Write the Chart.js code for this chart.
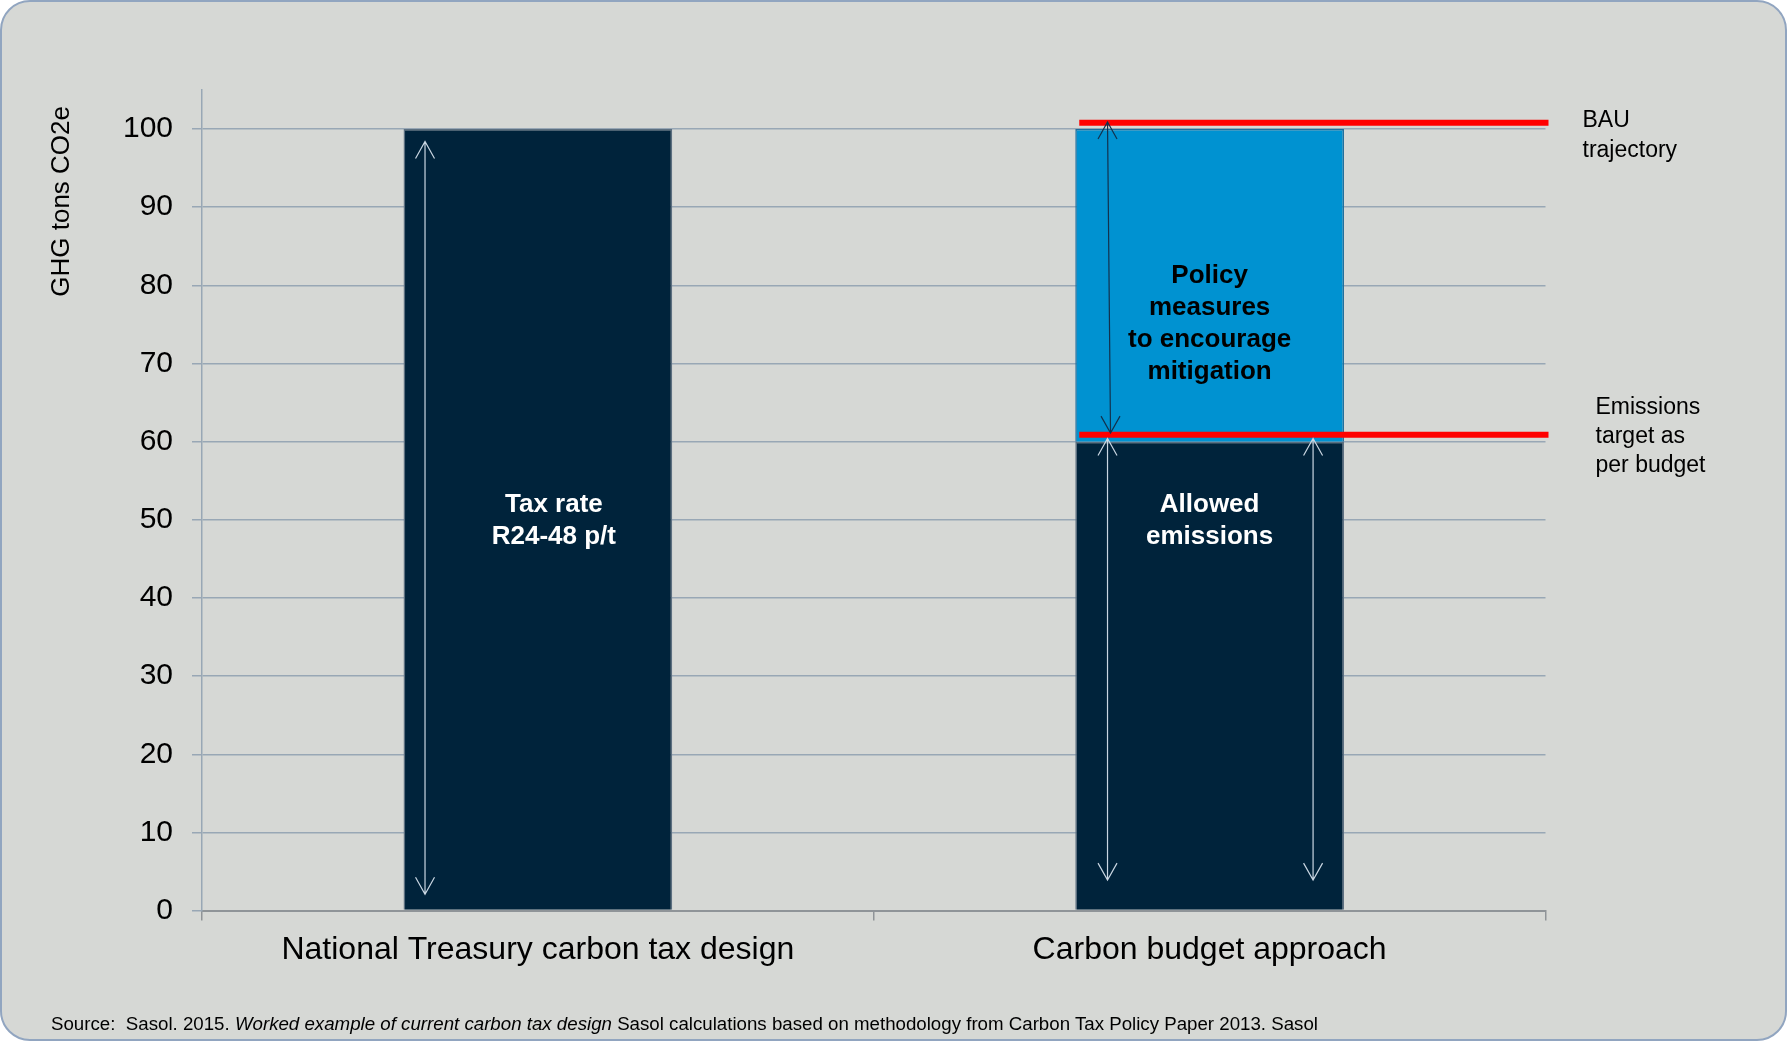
<!DOCTYPE html>
<html>
<head>
<meta charset="utf-8">
<script src="https://cdn.jsdelivr.net/npm/chart.js@4.4.1/dist/chart.umd.min.js"></script>
<style>
  html, body { margin: 0; padding: 0; }
  body { width: 1787px; height: 1041px; overflow: hidden; font-family: 'Liberation Sans', Arial, sans-serif; position: relative; }
  #frame { position: absolute; left: 0; top: 0; width: 1783px; height: 1037px; border: 2px solid #91a5c0; border-radius: 30px; background: #d6d8d5; }
  #chart { position: absolute; left: 0; top: 0; }
  #source { position: absolute; left: 51px; top: 1013px; font-size: 18.7px; color: #000; white-space: nowrap; }
</style>
</head>
<body>
<div id="frame"></div>
<canvas id="chart" width="1787" height="1041"></canvas>
<div id="source">Source:&nbsp; Sasol. 2015. <i>Worked example of current carbon tax design</i> Sasol calculations based on methodology from Carbon Tax Policy Paper 2013. Sasol</div>
<script>
const FONT = "'Liberation Sans', Arial, sans-serif"

const categories = ['National Treasury carbon tax design', 'Carbon budget approach']
const allowedEmissions = [100, 60]
const policyMeasures = [null, 40]
const bauLevel = 100.8
const targetLevel = 60.9

// bar labels: which bar, value at the middle of the text block, lines
const barLabelBars = [0, 1, 1]
const barLabelValues = [49.9, 49.9, 75.1]
const barLabelLines = [
  ['Tax rate', 'R24-48 p/t'],
  ['Allowed', 'emissions'],
  ['Policy', 'measures', 'to encourage', 'mitigation']
]

// double-headed arrows: bar and value span
const arrowBars = [0, 1, 1, 1]
const arrowSpans = [[2.1, 98.4], [61.1, 100.9], [3.9, 60.4], [3.9, 60.4]]

const bauText = ['BAU', 'trajectory']
const targetText = ['Emissions', 'target as', 'per budget']

function drawArrow (ctx, xBottom, yBottom, xTop, yTop, color) {
  ctx.strokeStyle = color
  ctx.lineWidth = 1.2
  ctx.beginPath()
  ctx.moveTo(xBottom, yBottom)
  ctx.lineTo(xTop, yTop)
  ctx.moveTo(xTop - 9.5, yTop + 17)
  ctx.lineTo(xTop, yTop)
  ctx.lineTo(xTop + 9.5, yTop + 17)
  ctx.moveTo(xBottom - 9.5, yBottom - 17)
  ctx.lineTo(xBottom, yBottom)
  ctx.lineTo(xBottom + 9.5, yBottom - 17)
  ctx.stroke()
}

const annotations = {
  id: 'annotations',
  afterDatasetsDraw (chart) {
    const { ctx, chartArea, scales: { y } } = chart
    const bars = chart.getDatasetMeta(0).data
    ctx.save()

    // red reference lines across the second bar
    ctx.strokeStyle = '#ff0000'
    ctx.lineWidth = 6
    ;[bauLevel, targetLevel].forEach(v => {
      const py = y.getPixelForValue(v)
      ctx.beginPath()
      ctx.moveTo(bars[1].x - bars[1].width / 2 + 4, py)
      ctx.lineTo(chartArea.right + 3, py)
      ctx.stroke()
    })

    // arrows
    const arrowPos = [0.08, 0.12, 0.12, 0.885]
    const arrowLean = [0, 3, 0, 0]
    const arrowColors = ['#c9d6e2', '#12314d', '#c9d6e2', '#c9d6e2']
    arrowSpans.forEach((span, i) => {
      const bar = bars[arrowBars[i]]
      const x = bar.x - bar.width / 2 + bar.width * arrowPos[i]
      drawArrow(ctx, x + arrowLean[i], y.getPixelForValue(span[0]), x, y.getPixelForValue(span[1]), arrowColors[i])
    })

    // labels inside bars
    const labelColors = ['#ffffff', '#ffffff', '#000000']
    const labelNudge = [16, 0, 0]
    ctx.font = `bold 26px ${FONT}`
    ctx.textAlign = 'center'
    ctx.textBaseline = 'middle'
    barLabelLines.forEach((lines, i) => {
      const bar = bars[barLabelBars[i]]
      const cy = y.getPixelForValue(barLabelValues[i])
      ctx.fillStyle = labelColors[i]
      lines.forEach((line, j) => {
        ctx.fillText(line, bar.x + labelNudge[i], cy + (j - (lines.length - 1) / 2) * 32)
      })
    })

    // notes on the right
    ctx.font = `23px ${FONT}`
    ctx.textAlign = 'left'
    ctx.fillStyle = '#000000'
    const bauY = y.getPixelForValue(bauLevel)
    bauText.forEach((line, j) => {
      ctx.fillText(line, chartArea.right + 37, bauY - 2 + j * 29.5)
    })
    const tgtY = y.getPixelForValue(targetLevel)
    targetText.forEach((line, j) => {
      ctx.fillText(line, chartArea.right + 50, tgtY + 2 + (j - 1) * 29)
    })

    // y-axis title, sitting near the top of the axis
    ctx.translate(61.5, chartArea.top + 16)
    ctx.rotate(-Math.PI / 2)
    ctx.font = `26px ${FONT}`
    ctx.textAlign = 'right'
    ctx.fillText('GHG tons CO2e', 0, 0)

    ctx.restore()
  }
}

new Chart(document.getElementById('chart'), {
  type: 'bar',
  data: {
    labels: categories,
    datasets: [{
      label: 'Allowed emissions',
      data: allowedEmissions,
      backgroundColor: '#00233b',
      borderColor: '#5c6f80',
      borderWidth: 1.5
    }, {
      label: 'Policy measures',
      data: policyMeasures,
      backgroundColor: '#0092d1',
      borderColor: '#1d6d9c',
      borderWidth: 1.5
    }]
  },
  options: {
    responsive: false,
    animation: false,
    layout: { padding: { top: 90, right: 241.5, left: 0, bottom: 0 } },
    datasets: { bar: { barPercentage: 0.4, categoryPercentage: 1 } },
    plugins: {
      legend: { display: false },
      tooltip: { enabled: false }
    },
    scales: {
      x: {
        stacked: true,
        grid: { offset: true, drawOnChartArea: false, drawTicks: true, tickLength: 10, color: '#8f9498', lineWidth: 1.5 },
        border: { color: '#8f9498', width: 2 },
        ticks: { color: '#000', font: { size: 32, family: FONT }, padding: 10, maxRotation: 0 },
        afterFit: scale => { scale.height = 130.4 }
      },
      y: {
        stacked: true,
        min: 0,
        max: 105,
        grid: { color: '#98a7b5', lineWidth: 1.5, tickLength: 10 },
        border: { color: '#98a7b5', width: 1.5 },
        ticks: { stepSize: 10, includeBounds: false, color: '#000', font: { size: 30, family: FONT }, padding: 19 },
        afterFit: scale => { scale.width = 202 }
      }
    }
  },
  plugins: [annotations]
})
</script>
</body>
</html>
